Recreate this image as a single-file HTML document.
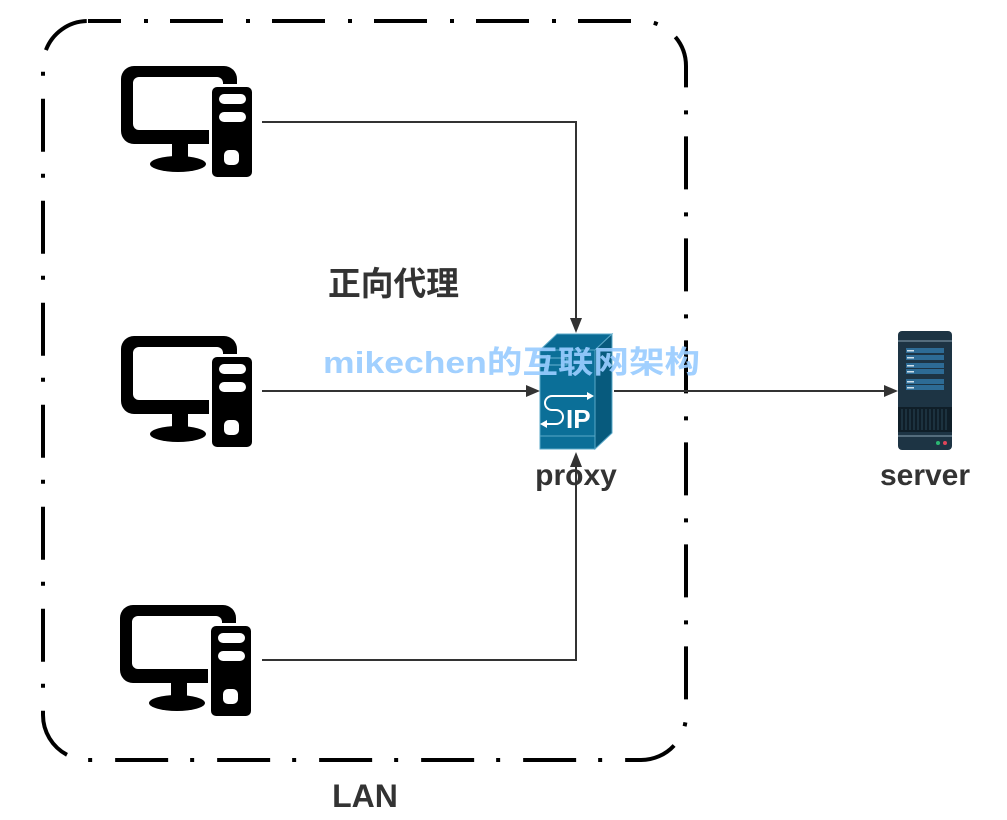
<!DOCTYPE html>
<html><head><meta charset="utf-8"><style>
html,body{margin:0;padding:0;background:#fff;width:1007px;height:820px;overflow:hidden}
text{font-family:"Liberation Sans","Noto Sans CJK SC",sans-serif;font-weight:bold}
</style></head><body>
<svg width="1007" height="820" viewBox="0 0 1007 820" xmlns="http://www.w3.org/2000/svg">
<defs>
<g id="pc">
  <rect x="0" y="0" width="116" height="78" rx="13" fill="#000"/>
  <rect x="12" y="11" width="90" height="53" rx="6" fill="#fff"/>
  <rect x="51" y="74" width="16" height="18" fill="#000"/>
  <ellipse cx="57" cy="98" rx="28" ry="8" fill="#000"/>
  <rect x="88" y="18" width="46" height="96" rx="5" fill="#fff"/>
  <rect x="91" y="21" width="40" height="90" rx="5" fill="#000"/>
  <rect x="98" y="28" width="27" height="10" rx="5" fill="#fff"/>
  <rect x="98" y="46" width="27" height="10" rx="5" fill="#fff"/>
  <rect x="103" y="84" width="15" height="15" rx="5" fill="#fff"/>
</g>
</defs>
<rect x="43" y="21" width="643" height="739" rx="45" fill="none" stroke="#000" stroke-width="4" stroke-dasharray="53 23 4 22" stroke-dashoffset="20"/>
<use href="#pc" x="121" y="66"/>
<use href="#pc" x="121" y="336"/>
<use href="#pc" x="120" y="605"/>
<g stroke="#333" stroke-width="2" fill="none">
  <polyline points="262,122 576,122 576,320"/>
  <line x1="262" y1="391" x2="528" y2="391"/>
  <polyline points="262,660 576,660 576,465"/>
  <line x1="614" y1="391" x2="886" y2="391"/>
</g>
<g fill="#333">
  <polygon points="570,318 582,318 576,333"/>
  <polygon points="526,385 526,397 540,391"/>
  <polygon points="570,467 582,467 576,452"/>
  <polygon points="884,385 884,397 898,391"/>
</g>
<!-- proxy -->
<g>
  <polygon points="540,350 557,334 612,334 595,350" fill="#0a6a93" stroke="#5aa8c8" stroke-width="1"/>
  <polygon points="595,350 612,334 612,433 595,449" fill="#075a7d" stroke="#5aa8c8" stroke-width="1"/>
  <rect x="540" y="350" width="55" height="99" fill="#0b6f98" stroke="#5aa8c8" stroke-width="1"/>
  <rect x="549" y="358" width="18" height="7" fill="none" stroke="#6ab3d3" stroke-width="1"/>
  <line x1="540" y1="436" x2="595" y2="436" stroke="#5aa8c8" stroke-width="1"/>
  <path d="M588,396 H552 a7,7 0 0 0 0,14 h4 a7,7 0 0 1 0,14 h-10" fill="none" stroke="#fff" stroke-width="2"/>
  <polygon points="587,392 594,396 587,400" fill="#fff"/>
  <polygon points="547,420 540,424 547,428" fill="#fff"/>
  <text x="566" y="428" font-size="26" fill="#fff">IP</text>
</g>
<!-- server -->
<g>
  <rect x="898" y="331" width="54" height="119" rx="4" fill="#1d3444"/>
  <line x1="898" y1="341" x2="952" y2="341" stroke="#8aa3b3" stroke-width="1"/>
  <rect x="906" y="348" width="38" height="5" fill="#2d6b95"/>
  <rect x="906" y="355" width="38" height="5" fill="#2d6b95"/>
  <rect x="906" y="363" width="38" height="5" fill="#2d6b95"/>
  <rect x="906" y="369" width="38" height="5" fill="#2d6b95"/>
  <rect x="906" y="379" width="38" height="5" fill="#2d6b95"/>
  <rect x="906" y="385" width="38" height="5" fill="#2d6b95"/>
  <g fill="#cfe0ea"><rect x="907" y="350" width="7" height="1.5"/><rect x="907" y="357" width="7" height="1.5"/><rect x="907" y="365" width="7" height="1.5"/><rect x="907" y="371" width="7" height="1.5"/><rect x="907" y="381" width="7" height="1.5"/><rect x="907" y="387" width="7" height="1.5"/></g>
  <rect x="898" y="407" width="54" height="25" fill="#0f1e28"/>
  <g stroke="#2a4556" stroke-width="1"><line x1="902" y1="409" x2="902" y2="430"/><line x1="906" y1="409" x2="906" y2="430"/><line x1="910" y1="409" x2="910" y2="430"/><line x1="914" y1="409" x2="914" y2="430"/><line x1="918" y1="409" x2="918" y2="430"/><line x1="922" y1="409" x2="922" y2="430"/><line x1="926" y1="409" x2="926" y2="430"/><line x1="930" y1="409" x2="930" y2="430"/><line x1="934" y1="409" x2="934" y2="430"/><line x1="938" y1="409" x2="938" y2="430"/><line x1="942" y1="409" x2="942" y2="430"/><line x1="946" y1="409" x2="946" y2="430"/></g>
  <line x1="898" y1="436" x2="952" y2="436" stroke="#8aa3b3" stroke-width="1"/>
  <circle cx="938" cy="443" r="2" fill="#2bb673"/>
  <circle cx="945" cy="443" r="2" fill="#e0455a"/>
</g>
<text x="328" y="295" font-size="33" fill="#333" textLength="131" lengthAdjust="spacingAndGlyphs">正向代理</text>
<text x="323" y="373" font-size="31" fill="#99ccff" fill-opacity="0.92" textLength="377" lengthAdjust="spacingAndGlyphs">mikechen的互联网架构</text>
<text x="576" y="485" font-size="30" fill="#333" text-anchor="middle">proxy</text>
<text x="925" y="485" font-size="30" fill="#333" text-anchor="middle">server</text>
<text x="365" y="807" font-size="32" fill="#333" text-anchor="middle">LAN</text>
</svg>
</body></html>
